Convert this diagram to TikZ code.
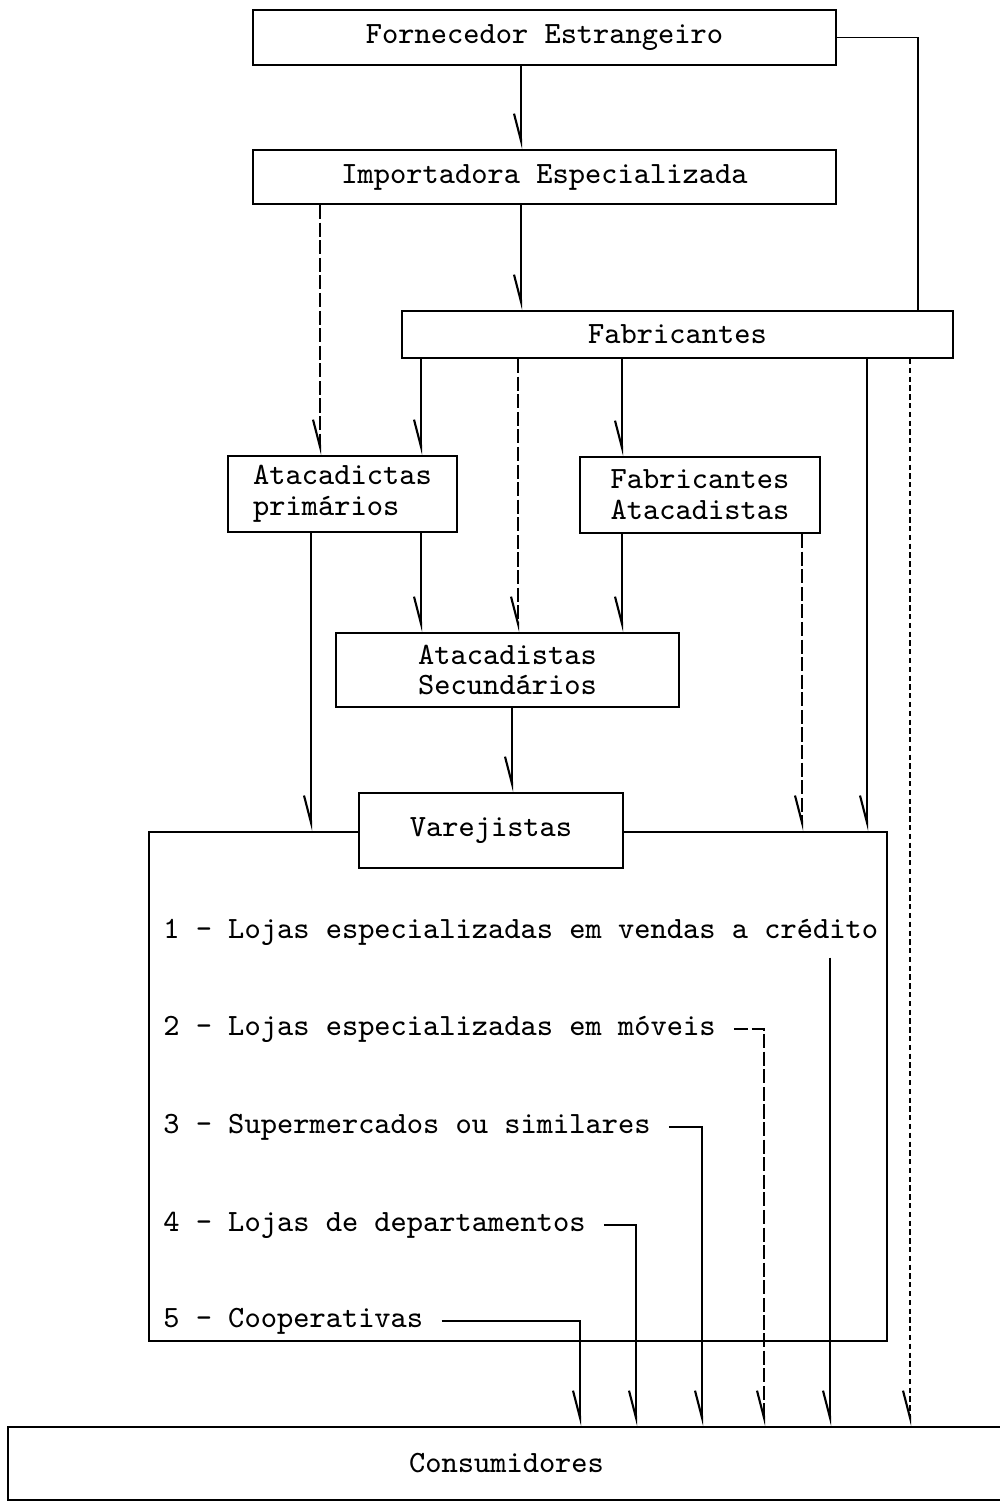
\documentclass[tikz,border=0pt]{standalone}
\usepackage{fontspec}
\usepackage{tikz}
\usetikzlibrary{arrows.meta,positioning,calc}

\begin{document}
\begin{tikzpicture}[x=0.01cm, y=-0.01cm,
    every node/.style={font=\ttfamily\fontsize{8.8}{8.8}\selectfont},
    box/.style={draw, line width=0.6pt, inner sep=0pt},
    flow/.style={line width=0.5pt, -{Straight Barb[harpoon, swap, length=2.7mm, width=1.4mm, line width=0.6pt]}},
    faint/.style={dash pattern=on 4pt off 1pt, line width=0.4pt},
    dotty/.style={dash pattern=on 1.5pt off 1pt, line width=0.45pt}]
    \useasboundingbox (0,0) rectangle (1000,1503);

    % faixas verticais das ligacoes
    \foreach \x in {311,320,421,512,518,521,580,622,636,702,764,802,830,867,910,918} {
        \coordinate (X\x) at (\x,0);
    }

    % caixas
    \node[box, minimum width=5.83cm, minimum height=0.55cm] (forn) at (544.5,37.5) {Fornecedor Estrangeiro};
    \node[box, minimum width=5.83cm, minimum height=0.54cm] (impo) at (544.5,177) {Importadora Especializada};
    \node[box, minimum width=5.51cm, minimum height=0.47cm] (fabr) at (677.5,334.5) {Fabricantes};
    \node[box, minimum width=2.29cm, minimum height=0.76cm, align=left] (atpr) at (342.5,494) {Atacadictas\\primários};
    \node[box, minimum width=2.40cm, minimum height=0.76cm, align=left] (faat) at (700,495) {Fabricantes\\Atacadistas};
    \node[box, minimum width=3.43cm, minimum height=0.74cm, align=left] (atse) at (507.5,670) {Atacadistas\\Secundários};

    % varejo
    \node[box, minimum width=7.38cm, minimum height=5.09cm] (frame) at (518,1086.5) {};
    \node[box, fill=white, minimum width=2.64cm, minimum height=0.75cm] (vare) at (491,830.5) {Varejistas};
    \node[anchor=west, inner xsep=5pt] (it1) at (145,932) {1 - Lojas especializadas em vendas a crédito};
    \node[anchor=west, inner xsep=5pt] (it2) at (145,1029) {2 - Lojas especializadas em móveis};
    \node[anchor=west, inner xsep=5pt] (it3) at (145,1127) {3 - Supermercados ou similares};
    \node[anchor=west, inner xsep=5pt] (it4) at (145,1225) {4 - Lojas de departamentos};
    \node[anchor=west, inner xsep=5pt] (it5) at (145,1321) {5 - Cooperativas};

    \node[box, minimum width=9.97cm, minimum height=0.73cm] (cons) at (506.5,1463.5) {Consumidores};

    % ligacoes
    \draw[flow] (forn.south -| X521) -- (impo.north -| X521);
    \draw[line width=0.5pt] (forn.east) -| (fabr.north -| X918);
    \draw[flow] (impo.south -| X521) -- (fabr.north -| X521);
    \draw[flow, faint] (impo.south -| X320) -- (atpr.north -| X320);
    \draw[flow] (fabr.south -| X421) -- (atpr.north -| X421);
    \draw[flow, faint] (fabr.south -| X518) -- (atse.north -| X518);
    \draw[flow] (fabr.south -| X622) -- (faat.north -| X622);
    \draw[flow] (fabr.south -| X867) -- (frame.north -| X867);
    \draw[flow, dotty] (fabr.south -| X910) -- (cons.north -| X910);
    \draw[flow] (atpr.south -| X311) -- (frame.north -| X311);
    \draw[flow] (atpr.south -| X421) -- (atse.north -| X421);
    \draw[flow] (faat.south -| X622) -- (atse.north -| X622);
    \draw[flow, faint] (faat.south -| X802) -- (frame.north -| X802);
    \draw[flow] (atse.south -| X512) -- (vare.north -| X512);

    % varejo -> consumidores
    \draw[flow] (it1.south -| X830) -- (cons.north -| X830);
    \draw[flow, faint] (it2.east) -| (cons.north -| X764);
    \draw[flow] (it3.east) -| (cons.north -| X702);
    \draw[flow] (it4.east) -| (cons.north -| X636);
    \draw[flow] (it5.east) -| (cons.north -| X580);
\end{tikzpicture}
\end{document}
